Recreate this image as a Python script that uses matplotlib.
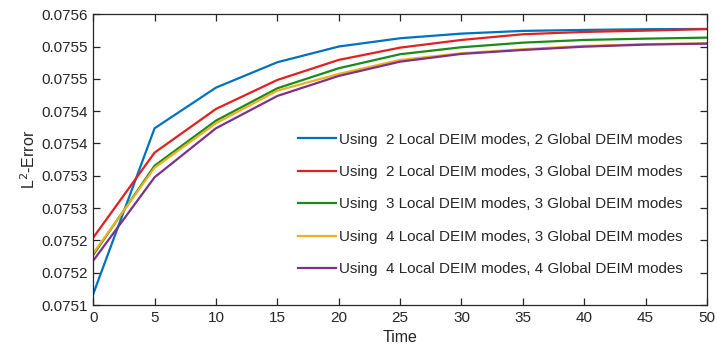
import matplotlib
matplotlib.use("Agg")
import matplotlib.pyplot as plt

plt.rcParams["font.family"] = ["Liberation Sans", "DejaVu Sans"]

time = [0, 5, 10, 15, 20, 25, 30, 35, 40, 45, 50]

err_2l_2g = [0.075117, 0.0753735, 0.0754364, 0.0754757, 0.0755000, 0.0755128,
             0.0755200, 0.0755242, 0.0755257, 0.0755268, 0.0755272]
err_2l_3g = [0.0752042, 0.0753358, 0.0754034, 0.0754483, 0.0754793, 0.0754983,
             0.0755102, 0.0755190, 0.0755226, 0.0755246, 0.0755270]
err_3l_3g = [0.0751775, 0.0753156, 0.0753853, 0.0754354, 0.0754664, 0.0754881,
             0.0754989, 0.0755060, 0.0755102, 0.0755122, 0.0755138]
err_4l_3g = [0.0751800, 0.0753125, 0.0753813, 0.0754317, 0.0754576, 0.0754793,
             0.0754896, 0.0754958, 0.0755010, 0.0755036, 0.0755051]
err_4l_4g = [0.0751686, 0.0752977, 0.0753735, 0.0754235, 0.0754545, 0.0754766,
             0.0754886, 0.0754947, 0.0754998, 0.0755030, 0.0755045]

labels = [
    "Using  2 Local DEIM modes, 2 Global DEIM modes",
    "Using  2 Local DEIM modes, 3 Global DEIM modes",
    "Using  3 Local DEIM modes, 3 Global DEIM modes",
    "Using  4 Local DEIM modes, 3 Global DEIM modes",
    "Using  4 Local DEIM modes, 4 Global DEIM modes",
]
colors = ["#0072bd", "#e41f1f", "#1a8a1a", "#edb120", "#7e2f8e"]

xticks = [0, 5, 10, 15, 20, 25, 30, 35, 40, 45, 50]
yticks = [0.07510, 0.07515, 0.07520, 0.07525, 0.07530,
          0.07535, 0.07540, 0.07545, 0.07550, 0.07555]
ytick_labels = ["0.0751", "0.0752", "0.0752", "0.0753", "0.0753",
                "0.0754", "0.0754", "0.0755", "0.0755", "0.0756"]

fig = plt.figure(figsize=(7.17, 3.47), dpi=100)
ax = fig.add_axes([0.130, 0.121, 0.856, 0.838])

series = [err_2l_2g, err_2l_3g, err_3l_3g, err_4l_3g, err_4l_4g]
for values, label, color in zip(series, labels, colors):
    ax.plot(time, values, color=color, lw=1.6, label=label)

ax.set_xlim(0, 50)
ax.set_ylim(0.07510, 0.07555)
ax.set_xticks(xticks)
ax.set_yticks(yticks)
ax.set_yticklabels(ytick_labels)

axis_color = "#262626"
for side in ax.spines.values():
    side.set_color(axis_color)
    side.set_linewidth(0.9)
ax.tick_params(direction="in", top=True, right=True, length=5, width=0.9,
               color=axis_color, labelcolor=axis_color, labelsize=11, pad=4)

ax.set_xlabel("Time", fontsize=11.5, color=axis_color, labelpad=4)
ax.set_ylabel("L$^2$-Error", fontsize=11.5, color=axis_color, labelpad=2)

ax.legend(loc="center left", bbox_to_anchor=(298 / 717, 0.4107),
          bbox_transform=fig.transFigure, frameon=False, fontsize=10.9,
          handlelength=2.5, handletextpad=0.2, labelspacing=1.22,
          borderpad=0, borderaxespad=0, labelcolor=axis_color)

fig.savefig("out.png", dpi=100)
